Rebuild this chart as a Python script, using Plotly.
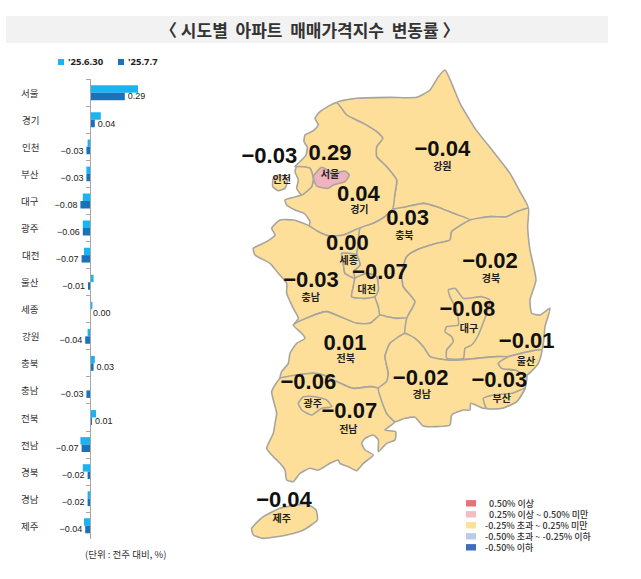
import plotly.graph_objects as go

# bar chart data
regions = ["서울", "경기", "인천", "부산", "대구", "광주", "대전", "울산", "세종",
           "강원", "충북", "충남", "전북", "전남", "경북", "경남", "제주"]
week_0630 = [0.40, 0.09, -0.02, -0.03, -0.06, -0.06, -0.05, 0.03, 0.02,
             -0.02, 0.04, 0.00, 0.05, -0.08, -0.06, -0.02, -0.05]
week_0707 = [0.29, 0.04, -0.03, -0.03, -0.08, -0.06, -0.07, -0.01, 0.00,
             -0.04, 0.03, -0.03, 0.01, -0.07, -0.02, -0.02, -0.04]
week_0707_text = ["0.29", "0.04", "−0.03", "−0.03", "−0.08", "−0.06", "−0.07", "−0.01", "0.00",
                  "−0.04", "0.03", "−0.03", "0.01", "−0.07", "−0.02", "−0.02", "−0.04"]

# map outlines, in map units
gangwon = [(320,128),(380,115),(480,112),(560,112),(600,90),(625,50),(645,30),(665,70),(690,130),(735,205),
           (790,275),(840,340),(870,395),(895,445),(860,455),(830,470),(780,470),(720,480),(670,460),(620,440),
           (580,430),(530,440),(488,448),(495,400),(500,360),(470,320),(440,290),(440,260),(458,235),(440,215),
           (400,190),(350,165)]
gyeonggi = [(320,128),(350,165),(400,190),(440,215),(458,235),(440,260),(440,290),(470,320),(500,360),(495,400),
            (488,448),(465,470),(430,490),(390,505),(340,525),(300,528),(265,515),(238,498),(240,485),(225,462),
            (195,450),(170,435),(165,420),(190,412),(215,405),(245,380),(250,355),(240,325),(195,320),(215,300),
            (228,285),(232,262),(222,245),(225,225),(250,212),(265,195),(255,175),(270,155)]
incheon_a = [(200,320),(240,325),(250,355),(245,380),(215,405),(200,385),(205,360),(195,335)]
incheon_b = [(130,355),(145,345),(165,350),(172,365),(165,385),(145,392),(128,380)]
seoul = [(250,350),(275,322),(310,340),(345,333),(358,345),(345,365),(310,375),(295,385),(260,378)]
chungbuk = [(488,448),(530,440),(580,430),(620,440),(670,460),(720,480),(665,515),(660,540),(620,550),(560,570),
            (530,590),(515,640),(520,680),(555,725),(535,765),(530,775),(500,775),(470,770),(450,765),(445,740),
            (435,710),(445,690),(440,650),(410,640),(375,655),(370,635),(390,615),(380,585),(385,550),(390,505),
            (430,490),(465,470)]
chungnam = [(238,498),(220,490),(190,480),(150,480),(125,505),(135,525),(110,545),(70,565),(75,585),(120,610),
            (145,640),(170,670),(170,700),(190,745),(205,775),(190,795),(240,770),(290,755),(330,770),(380,790),
            (420,790),(450,765),(445,740),(435,710),(405,715),(365,710),(370,680),(375,655),(345,640),(340,610),
            (335,580),(380,585),(385,550),(390,505),(340,525),(300,528),(265,515)]
sejong = [(335,580),(380,585),(390,615),(370,635),(375,655),(345,640),(340,610)]
daejeon = [(375,655),(410,640),(440,650),(445,690),(435,710),(405,715),(365,710),(370,680)]
jeonbuk = [(190,795),(215,820),(225,835),(200,850),(180,880),(175,910),(155,935),(150,955),(200,945),(250,940),
           (280,945),(310,960),(370,985),(420,980),(445,985),(470,965),(475,940),(465,890),(480,850),(525,820),
           (530,775),(500,775),(470,770),(450,765),(420,790),(380,790),(330,770),(290,755),(240,770)]
jeonnam = [(150,955),(125,995),(130,1020),(140,1060),(135,1090),(130,1120),(110,1165),(130,1190),(150,1210),(165,1230),
           (170,1260),(190,1265),(210,1240),(240,1225),(265,1230),(300,1210),(325,1200),(330,1210),(355,1220),(380,1232),
           (400,1210),(430,1185),(405,1170),(395,1150),(405,1135),(430,1125),(445,1140),(445,1175),(470,1150),(495,1140),
           (497,1115),(465,1110),(495,1085),(470,1060),(445,985),(420,980),(370,985),(310,960),(280,945),(250,940),(200,945)]
gwangju = [(205,1030),(220,1010),(255,1010),(290,1020),(305,1040),(275,1045),(245,1065),(215,1050)]
gyeongbuk = [(895,445),(860,455),(830,470),(780,470),(720,480),(665,515),(660,540),(620,550),(560,570),(530,590),
             (515,640),(520,680),(555,725),(535,765),(530,775),(525,820),(555,835),(580,860),(600,890),(650,900),
             (690,900),(740,895),(800,890),(835,890),(935,870),(945,800),(960,745),(930,765),(905,760),(900,720),
             (918,660),(900,570),(893,500)]
daegu = [(655,690),(675,685),(700,715),(755,710),(780,720),(770,760),(745,825),(725,855),(705,865),(700,895),
         (650,895),(650,870),(670,845),(665,830),(645,815),(650,800),(685,795),(680,750),(660,710)]
gyeongnam = [(445,985),(470,1060),(495,1085),(525,1075),(555,1072),(580,1098),(620,1100),(660,1095),(665,1065),(700,1050),
             (720,1050),(722,1030),(760,1045),(770,1045),(815,1045),(860,1025),(885,985),(890,945),(855,930),(815,925),
             (805,910),(835,890),(800,890),(740,895),(690,900),(650,900),(600,890),(580,860),(555,835),(525,820),
             (480,850),(465,890),(475,940),(470,965)]
ulsan = [(805,910),(835,890),(935,870),(925,910),(890,945),(855,930),(815,925)]
busan = [(760,1015),(790,1005),(845,1000),(885,985),(860,1025),(815,1045),(770,1045)]
jeju = [(65,1405),(100,1370),(150,1345),(230,1332),(258,1350),(262,1380),(220,1410),(170,1425),(100,1435),(70,1425)]

map_shapes = [gangwon, gyeonggi, chungnam, chungbuk, jeonbuk, jeonnam, gyeongbuk, gyeongnam,
              incheon_a, incheon_b, sejong, daejeon, gwangju, daegu, ulsan, busan, jeju]

# map labels
value_text = ["−0.03", "0.29", "0.04", "−0.04", "0.03", "0.00", "−0.07", "−0.03", "−0.02",
              "−0.08", "−0.01", "0.01", "−0.06", "−0.07", "−0.02", "−0.03", "−0.04"]
value_x = [118, 300, 385, 637, 533, 352, 450, 243, 780, 712, 890, 345, 235, 358, 572, 808, 162]
value_y = [292, 283, 405, 270, 478, 553, 640, 665, 608, 752, 847, 853, 970, 1057, 958, 965, 1323]
name_text = ["인천", "서울", "경기", "강원", "충북", "세종", "대전", "충남", "경북",
             "대구", "울산", "전북", "광주", "전남", "경남", "부산", "제주"]
name_x = [155, 300, 388, 637, 523, 356, 410, 242, 783, 717, 888, 347, 248, 355, 575, 815, 155]
name_y = [362, 347, 452, 322, 528, 605, 690, 715, 658, 808, 908, 898, 1032, 1112, 1007, 1018, 1378]

key_labels = ["0.50% 이상", "0.25% 이상 ~ 0.50% 미만", "-0.25% 초과 ~ 0.25% 미만",
              "-0.50% 초과 ~ -0.25% 이하", "-0.50% 이하"]
key_colors = ["#E57377", "#F3BCC3", "#FDDF9A", "#BDCBE8", "#3F6CBC"]

KR = "Noto Sans CJK KR"
LATIN = "Liberation Sans"
YELLOW = "#FDDF9A"
EDGE = "#A8A59C"
W, H = 641, 579


def px(x):
    return x / W


def py(y):
    return 1 - y / H


fig = go.Figure()

fig.add_trace(go.Bar(y=regions, x=week_0630, orientation="h", marker_color="#1CB4F0", marker_line_width=0,
                     hoverinfo="skip"))
fig.add_trace(go.Bar(y=regions, x=week_0707, orientation="h", marker_color="#1B72BA", marker_line_width=0,
                     text=week_0707_text, textposition="outside", cliponaxis=False, constraintext="none",
                     textfont=dict(family=LATIN, size=9, color="#222222")))

# map goes on its own full page axes
for shape in map_shapes:
    fig.add_trace(go.Scatter(x=[p[0] for p in shape] + [shape[0][0]], y=[p[1] for p in shape] + [shape[0][1]],
                             mode="lines", fill="toself", fillcolor=YELLOW,
                             line=dict(color=EDGE, width=1.6, shape="spline", smoothing=0.5),
                             xaxis="x2", yaxis="y2", hoverinfo="skip"))
fig.add_trace(go.Scatter(x=[p[0] for p in seoul] + [seoul[0][0]], y=[p[1] for p in seoul] + [seoul[0][1]],
                         mode="lines", fill="toself", fillcolor="#EFB2BF",
                         line=dict(color=EDGE, width=1.6, shape="spline", smoothing=0.5),
                         xaxis="x2", yaxis="y2", hoverinfo="skip"))
fig.add_trace(go.Scatter(x=name_x, y=name_y, mode="text", text=name_text, xaxis="x2", yaxis="y2",
                         textfont=dict(family=KR, size=10, color="#222222", weight=700)))
fig.add_trace(go.Scatter(x=value_x, y=value_y, mode="text", text=value_text, xaxis="x2", yaxis="y2",
                         textfont=dict(family=LATIN, size=22, color="#111111", weight=700)))

shapes = [dict(type="rect", xref="paper", yref="paper", x0=px(6), x1=px(608), y0=py(43), y1=py(16),
               fillcolor="#F2F2F2", line_width=0, layer="below"),
          dict(type="rect", xref="paper", yref="paper", x0=px(58), x1=px(64), y0=py(65), y1=py(59),
               fillcolor="#1CB4F0", line_width=0),
          dict(type="rect", xref="paper", yref="paper", x0=px(118), x1=px(124), y0=py(65), y1=py(59),
               fillcolor="#1B72BA", line_width=0)]
annotations = [dict(text="〈 시도별\u00a0\u00a0아파트\u00a0\u00a0매매가격지수\u00a0\u00a0변동률 〉",
                    xref="paper", yref="paper", x=px(309), y=py(30),
                    xanchor="center", yanchor="middle",
                    showarrow=False, font=dict(family=KR, size=17, color="#333333", weight=700)),
               dict(text="'25.6.30", xref="paper", yref="paper", x=px(66), y=py(62), xanchor="left", yanchor="middle",
                    showarrow=False, font=dict(family="Open Sans", size=9.5, color="#222222", weight=700)),
               dict(text="'25.7.7", xref="paper", yref="paper", x=px(126), y=py(62), xanchor="left", yanchor="middle",
                    showarrow=False, font=dict(family="Open Sans", size=9.5, color="#222222", weight=700)),
               dict(text="(단위 : 전주 대비, %)", xref="paper", yref="paper", x=px(125), y=py(554),
                    xanchor="center", yanchor="middle",
                    showarrow=False, font=dict(family=KR, size=9.5, color="#333333"))]

for name in regions:
    annotations.append(dict(text=name, xref="paper", yref="y", x=px(30), y=name, showarrow=False,
                            xanchor="center", yanchor="middle",
                            font=dict(family=KR, size=9.5, color="#333333")))

for i, (label, color) in enumerate(zip(key_labels, key_colors)):
    row_y = 503.3 + i * 11
    shapes.append(dict(type="rect", xref="paper", yref="paper", x0=px(466), x1=px(476),
                       y0=py(row_y + 3.2), y1=py(row_y - 3.2), fillcolor=color, line_width=0))
    annotations.append(dict(text=label, xref="paper", yref="paper", x=px(486.7 if i < 2 else 483.3), y=py(row_y),
                            xanchor="left", yanchor="middle", showarrow=False,
                            font=dict(family=KR, size=9, color="#333333", weight=500)))

fig.update_layout(
    width=W, height=H,
    margin=dict(l=0, r=0, t=0, b=0),
    paper_bgcolor="white",
    plot_bgcolor="rgba(0,0,0,0)",
    showlegend=False,
    barmode="group",
    bargap=0.45,
    bargroupgap=0,
    shapes=shapes,
    annotations=annotations,
    xaxis=dict(domain=[0, px(300)], range=[-0.75, 1.75], visible=False),
    yaxis=dict(domain=[py(539.3), py(79.2)], autorange="reversed", type="category",
               anchor="free", position=px(90), showticklabels=False, showgrid=False, zeroline=False,
               showline=True, linecolor="#A6A6A6", linewidth=1, ticks="outside", ticklen=4,
               tickcolor="#A6A6A6", tickson="boundaries"),
    xaxis2=dict(domain=[0, 1], range=[-690, 1233], visible=False, anchor="y2"),
    yaxis2=dict(domain=[0, 1], range=[1557, -180], visible=False, anchor="x2"),
)

# page margin off so the figure sits at the window corner
fig.write_html("out.html", post_script="document.body.style.margin='0';",
               config={"displayModeBar": False})
